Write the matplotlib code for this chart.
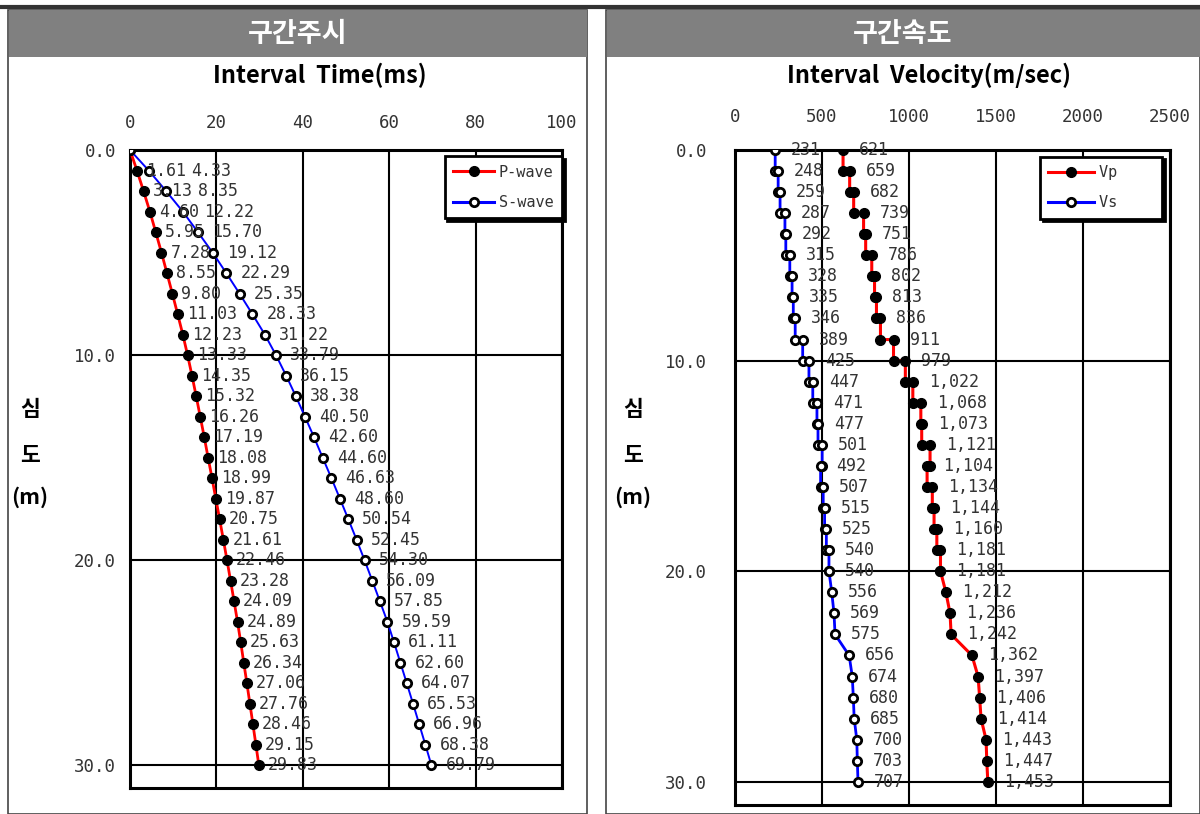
import numpy as np
import matplotlib.pyplot as plt
from matplotlib.patches import Rectangle
from matplotlib.lines import Line2D

# depth (m)
depth = np.arange(0, 31)

# interval time (ms)
p_time = [0, 1.61, 3.13, 4.60, 5.95, 7.28, 8.55, 9.80, 11.03, 12.23, 13.33,
          14.35, 15.32, 16.26, 17.19, 18.08, 18.99, 19.87, 20.75, 21.61, 22.46,
          23.28, 24.09, 24.89, 25.63, 26.34, 27.06, 27.76, 28.46, 29.15, 29.83]
s_time = [0, 4.33, 8.35, 12.22, 15.70, 19.12, 22.29, 25.35, 28.33, 31.22, 33.79,
          36.15, 38.38, 40.50, 42.60, 44.60, 46.63, 48.60, 50.54, 52.45, 54.30,
          56.09, 57.85, 59.59, 61.11, 62.60, 64.07, 65.53, 66.96, 68.38, 69.79]

# interval velocity (m/sec)
vp = [621, 659, 682, 739, 751, 786, 802, 813, 836, 911, 979,
      1022, 1068, 1073, 1121, 1104, 1134, 1144, 1160, 1181, 1181,
      1212, 1236, 1242, 1362, 1397, 1406, 1414, 1443, 1447, 1453]
vs = [231, 248, 259, 287, 292, 315, 328, 335, 346, 389, 425,
      447, 471, 477, 501, 492, 507, 515, 525, 540, 540,
      556, 569, 575, 656, 674, 680, 685, 700, 703, 707]
step_until = 20  # velocity drawn as layer steps down to this depth

time_ticks = [0, 20, 40, 60, 80, 100]
vel_ticks = [0, 500, 1000, 1500, 2000, 2500]
depth_ticks = [0, 10, 20, 30]

W, H = 1200, 814
fig = plt.figure(figsize=(W / 100, H / 100), dpi=100)
KR = ['Noto Sans CJK KR', 'DejaVu Sans']
MONO = 'DejaVu Sans Mono'
TXT = '#333333'


def fx(px):
    return px / W


def fy(py):
    return 1 - py / H


# panel frames and headers (kept under the axes)
fig.add_artist(Line2D([0, 1], [fy(7), fy(7)], color='#333333', lw=3, zorder=-1))
for x0, x1, title in [(8, 587, '구간주시'), (606, 1200, '구간속도')]:
    fig.add_artist(Rectangle((fx(x0), 0), fx(x1 - x0), fy(10), facecolor='white',
                             edgecolor='#444444', lw=1.2, zorder=-3))
    fig.add_artist(Rectangle((fx(x0 + 1), fy(57)), fx(x1 - x0 - 1), fy(10) - fy(57),
                             facecolor='#808080', edgecolor='none', zorder=-2))
    fig.text(fx((x0 + x1) / 2), fy(34), title, color='white', fontsize=19.5,
             fontweight='bold', family=KR, ha='center', va='center')

fig.text(fx(320), fy(75), 'Interval  Time(ms)', fontsize=17, fontweight='bold',
         family=KR, ha='center', va='center')
fig.text(fx(929), fy(75), 'Interval  Velocity(m/sec)', fontsize=17, fontweight='bold',
         family=KR, ha='center', va='center')
for xc in (30, 633):
    for yc, s in [(410, '심'), (455, '도'), (497, '(m)')]:
        fig.text(fx(xc), fy(yc), s, fontsize=15.5, fontweight='bold', family=KR,
                 ha='center', va='center')


def style_axes(ax, xticks, xpad, ypad):
    ax.set_facecolor('white')
    ax.xaxis.tick_top()
    ax.set_xticks(xticks)
    ax.set_yticks(depth_ticks)
    ax.set_yticklabels([f'{d:.1f}' for d in depth_ticks])
    ax.tick_params(length=0, labelsize=12.5, labelcolor=TXT)
    ax.tick_params(axis='x', pad=xpad)
    ax.tick_params(axis='y', pad=ypad)
    for lbl in ax.get_xticklabels() + ax.get_yticklabels():
        lbl.set_family(MONO)
    ax.grid(True, color='black', lw=1.5)
    ax.set_axisbelow(True)
    for sp in ax.spines.values():
        sp.set_linewidth(2.2)
        sp.set_color('black')


def legend(ax, labels, anchor, hlen):
    handles = [Line2D([], [], color='red', lw=2.2, marker='o', ms=7,
                      mfc='black', mec='black'),
               Line2D([], [], color='blue', lw=2.2, marker='o', ms=6,
                      mfc='white', mec='black', mew=2)]
    leg = ax.legend(handles, labels, loc='upper right', bbox_to_anchor=anchor,
                    borderaxespad=0, fancybox=False,
                    shadow={'color': 'black', 'alpha': 1},
                    handlelength=hlen, handletextpad=0.3, labelspacing=1.0,
                    borderpad=0.55, prop={'family': MONO, 'size': 11})
    leg.get_frame().set_edgecolor('black')
    leg.get_frame().set_linewidth(2)
    for t in leg.get_texts():
        t.set_color(TXT)


# ---- left: interval time ----
ax1 = fig.add_axes([fx(130), fy(788), fx(432), fy(150) - fy(788)])
ax1.set_xlim(0, 100)
ax1.set_ylim(31.1, 0)
style_axes(ax1, time_ticks, 13, 10)
ax1.plot(p_time, depth, color='red', lw=2.0, marker='o', ms=7,
         mfc='black', mec='black', zorder=3)
ax1.plot(s_time, depth, color='blue', lw=1.4, marker='o', ms=6,
         mfc='white', mec='black', mew=2, zorder=4)

ppu = fx(432) * W / 100  # px per ms
px2pt = 72 / fig.dpi
fs = 12
char_px = 0.6 * fs / px2pt
for d, p, s in zip(depth[1:], p_time[1:], s_time[1:]):
    plab, slab = f'{p:.2f}', f'{s:.2f}'
    p_off = 9
    p_end = p * ppu + p_off + len(plab) * char_px
    s_off = max(14, p_end + 5 - s * ppu)
    ax1.annotate(plab, (p, d), xytext=(p_off * px2pt, 0), textcoords='offset points',
                 va='center', ha='left', fontsize=fs, family=MONO, color=TXT,
                 annotation_clip=False, zorder=5)
    ax1.annotate(slab, (s, d), xytext=(s_off * px2pt, 0), textcoords='offset points',
                 va='center', ha='left', fontsize=fs, family=MONO, color=TXT,
                 annotation_clip=False, zorder=5)
legend(ax1, ['P-wave', 'S-wave'], (1.0, 0.99), 2.7)

# ---- right: interval velocity ----
ax2 = fig.add_axes([fx(735), fy(805), fx(435), fy(150) - fy(805)])
ax2.set_xlim(0, 2500)
ax2.set_ylim(31.1, 0)
style_axes(ax2, vel_ticks, 17, 20)


def layer_path(v):
    xs, ys = [v[0]], [depth[0]]
    for k in range(1, len(v)):
        if depth[k] <= step_until:
            xs.append(v[k - 1])
            ys.append(depth[k])
        xs.append(v[k])
        ys.append(depth[k])
    return xs, ys


xp, yp = layer_path(vp)
xs_, ys_ = layer_path(vs)
ax2.plot(xp, yp, color='red', lw=2.2, marker='o', ms=7, mfc='black', mec='black', zorder=3)
ax2.plot(xs_, ys_, color='blue', lw=2.0, marker='o', ms=6, mfc='white', mec='black',
         mew=2, zorder=4)
for d, a, b in zip(depth, vp, vs):
    for v in (a, b):
        ax2.annotate(f'{v:,}', (v, d), xytext=(16 * px2pt, 0), textcoords='offset points',
                     va='center', ha='left', fontsize=fs, family=MONO, color=TXT,
                     annotation_clip=False, zorder=5)
legend(ax2, ['Vp    ', 'Vs    '], (1 - 8 / 435, 0.99), 3.0)

fig.savefig('out.png', dpi=100)
